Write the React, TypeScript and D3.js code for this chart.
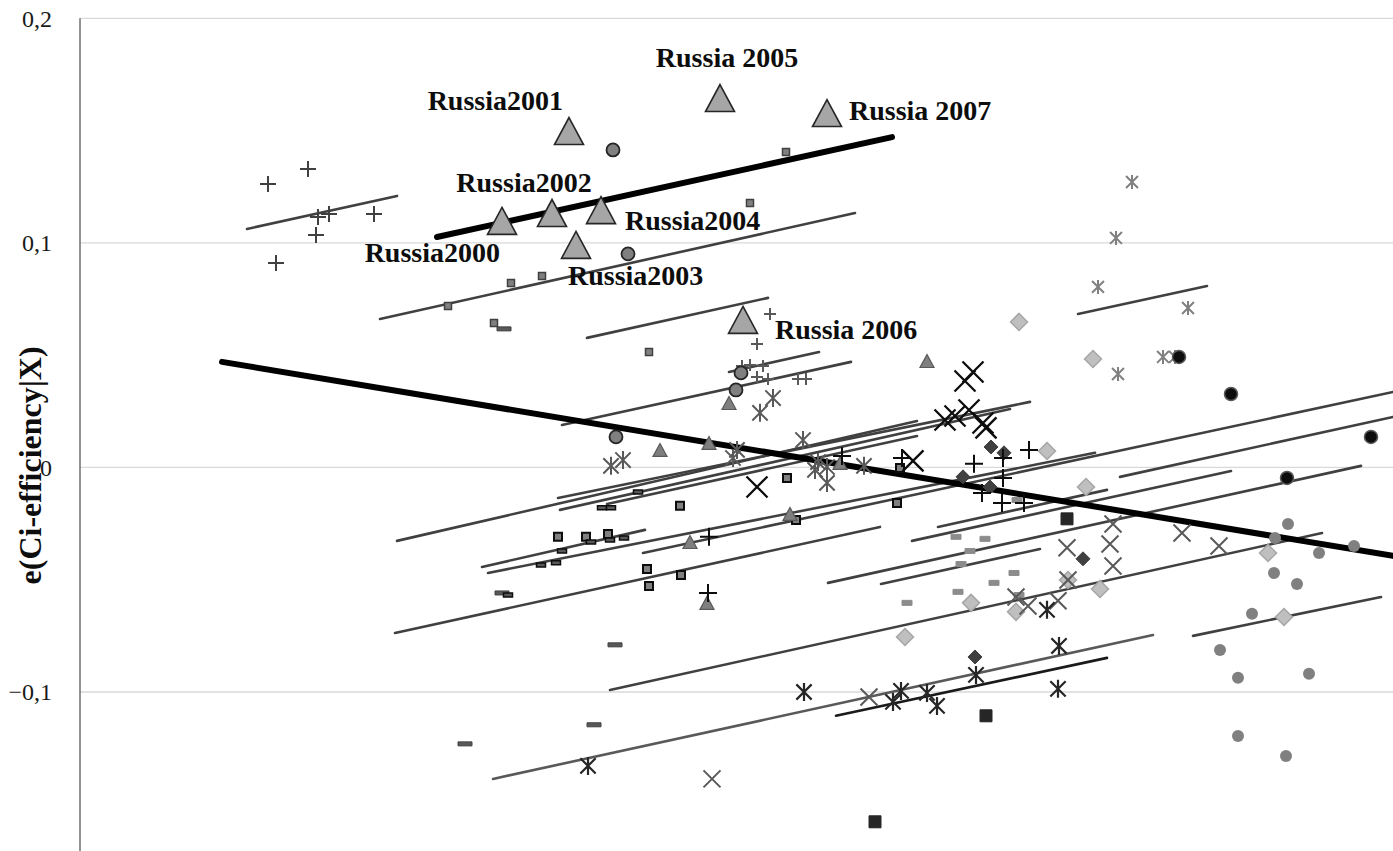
import React from 'react';
import * as d3 from 'd3';

// Russia observations (large triangles, labelled)
const russiaYears = ['Russia2000', 'Russia2001', 'Russia2002', 'Russia2003', 'Russia2004', 'Russia 2005', 'Russia 2006', 'Russia 2007'];
const russiaX = [4.22, 4.89, 4.72, 4.96, 5.21, 6.40, 6.63, 7.47];
const russiaY = [0.1098, 0.1498, 0.1133, 0.0991, 0.1146, 0.1645, 0.0657, 0.1578];

// other countries, one array per marker style: [x, e(Ci-efficiency|X)]
const plusGrey: number[][] = [[1.88, 0.1262], [2.28, 0.1329], [2.38, 0.1115], [2.49, 0.1129], [2.94, 0.1129], [2.36, 0.1035], [1.96, 0.0910]];
const plusMid: number[][] = [[6.90, 0.0683], [6.77, 0.0550], [6.62, 0.0452], [6.70, 0.0456], [6.83, 0.0452], [6.77, 0.0403], [6.88, 0.0394], [7.18, 0.0394], [7.26, 0.0394]];
const plusBlack: number[][] = [[6.29, -0.0309], [6.28, -0.0559], [7.62, 0.0051], [8.22, 0.0042], [8.94, 0.0016], [9.49, 0.0078], [9.23, 0.0042], [9.23, -0.0047], [9.02, -0.0114], [9.22, -0.0158], [9.44, -0.0158]];
const squaresGrey: number[][] = [[7.06, 0.1405], [6.70, 0.1178], [4.31, 0.0821], [4.62, 0.0853], [3.68, 0.0719], [4.14, 0.0643], [5.69, 0.0514]];
const dashesGrey: number[][] = [[4.24, 0.0617], [4.22, -0.0559], [5.35, -0.0790], [5.14, -0.1146], [3.85, -0.1231]];
const squaresOutlined: number[][] = [[4.78, -0.0309], [5.06, -0.0309], [5.28, -0.0296], [6.00, -0.0171], [5.67, -0.0452], [5.69, -0.0528], [6.01, -0.0479], [7.07, -0.0047], [7.16, -0.0234], [8.20, -0.0002], [8.17, -0.0158]];
const dashesOutlined: number[][] = [[5.22, -0.0180], [5.31, -0.0180], [5.58, -0.0109], [4.82, -0.0372], [4.61, -0.0434], [4.76, -0.0425], [5.11, -0.0332], [5.30, -0.0323], [5.44, -0.0314], [4.28, -0.0568]];
const circlesOutlined: number[][] = [[5.33, 0.1414], [5.48, 0.0951], [5.36, 0.0136], [6.56, 0.0345], [6.61, 0.0421]];
const trianglesSmall: number[][] = [[5.80, 0.0078], [6.29, 0.0109], [6.49, 0.0287], [7.60, 0.0020], [7.10, -0.0207], [6.10, -0.0332], [8.47, 0.0474], [6.27, -0.0603]];
const asterisksMid: number[][] = [[5.31, 0.0007], [5.43, 0.0033], [6.80, 0.0243], [6.93, 0.0309], [6.57, 0.0078], [6.53, 0.0042], [7.23, 0.0122], [7.38, 0.0024], [7.35, -0.0011], [7.47, 0.0002], [7.47, -0.0069], [7.84, 0.0007]];
const asterisksLight: number[][] = [[10.52, 0.1271], [10.36, 0.1022], [10.18, 0.0804], [11.08, 0.0710], [10.38, 0.0416], [10.83, 0.0492], [10.95, 0.0492]];
const circlesBlack: number[][] = [[10.99, 0.0492], [11.51, 0.0327], [12.91, 0.0136], [12.07, -0.0047]];
const circlesGrey: number[][] = [[12.08, -0.0252], [11.95, -0.0314], [12.39, -0.0381], [12.74, -0.0350], [11.94, -0.0470], [12.17, -0.0519], [11.72, -0.0652], [11.40, -0.0813], [11.58, -0.0937], [12.29, -0.0919], [11.58, -0.1196], [12.06, -0.1285]];
const diamondsLight: number[][] = [[9.39, 0.0648], [10.13, 0.0483], [9.67, 0.0073], [10.06, -0.0087], [11.88, -0.0381], [10.20, -0.0541], [12.04, -0.0666], [8.91, -0.0603], [8.25, -0.0755], [9.36, -0.0643], [9.88, -0.0501]];
const diamondsDark: number[][] = [[9.11, 0.0091], [9.24, 0.0065], [8.83, -0.0042], [9.10, -0.0087], [10.03, -0.0407], [8.95, -0.0844]];
const crossesBlack: number[][] = [[8.85, 0.0385], [8.93, 0.0425], [8.65, 0.0211], [8.75, 0.0229], [8.89, 0.0256], [9.03, 0.0198], [9.06, 0.0176], [8.33, 0.0029], [6.77, -0.0087]];
const crossesGrey: number[][] = [[9.87, -0.0358], [10.33, -0.0252], [10.30, -0.0341], [10.33, -0.0439], [9.88, -0.0501], [9.36, -0.0577], [9.48, -0.0617], [9.78, -0.0594], [11.02, -0.0292], [11.39, -0.0350], [7.89, -0.1022], [6.32, -0.1387]];
const asterisksDark: number[][] = [[7.24, -0.1000], [8.21, -0.0995], [8.13, -0.1044], [8.47, -0.1004], [8.57, -0.1062], [8.96, -0.0924], [9.67, -0.0634], [9.79, -0.0795], [9.78, -0.0986], [5.08, -0.1329]];
const squaresBlack: number[][] = [[7.95, -0.1578], [9.06, -0.1106], [9.87, -0.0229]];
const dashesLight: number[][] = [[8.76, -0.0309], [9.05, -0.0318], [8.90, -0.0372], [8.81, -0.0430], [9.34, -0.0470], [9.14, -0.0514], [8.78, -0.0554], [8.27, -0.0603], [9.37, -0.0145], [9.39, -0.0568]];

// fitted lines [x1, y1, x2, y2]
const pooledFit = [1.42, 0.0470, 13.13, -0.0394];
const russiaFit = [3.57, 0.1026, 8.12, 0.1471];
const countryFits: number[][] = [
  [1.67, 0.1062, 3.17, 0.1209],
  [3.00, 0.0661, 7.75, 0.1133],
  [5.07, 0.0577, 6.88, 0.0755],
  [6.49, 0.0425, 7.39, 0.0514],
  [4.82, 0.0189, 7.71, 0.0470],
  [9.98, 0.0683, 11.27, 0.0808],
  [3.17, -0.0327, 8.37, 0.0207],
  [4.78, -0.0136, 9.50, 0.0292],
  [4.80, -0.0189, 9.30, 0.0260],
  [5.27, -0.0163, 8.37, 0.0140],
  [4.02, -0.0443, 5.65, -0.0278],
  [4.08, -0.0470, 10.15, 0.0065],
  [5.63, -0.0381, 13.13, 0.0336],
  [5.30, -0.0991, 12.42, -0.0292],
  [4.13, -0.1387, 10.73, -0.0746],
  [7.56, -0.1106, 10.27, -0.0848],
  [11.13, -0.0750, 13.01, -0.0577],
  [7.48, -0.0514, 12.81, 0.0007],
  [8.01, -0.0519, 9.60, -0.0363],
  [8.32, -0.0327, 11.51, -0.0016],
  [8.58, -0.0265, 10.27, -0.0100],
  [10.40, -0.0042, 13.13, 0.0225],
  [3.15, -0.0737, 8.00, -0.0265],
];

const yTicks = [0.2, 0.1, 0, -0.1];

const W = 1393, H = 851;
const serif = '"Liberation Serif", "Times New Roman", serif';

const plusPath = (s: number) => `M${-s / 2},0H${s / 2}M0,${-s / 2}V${s / 2}`;
const crossPath = (s: number) => { const h = s / 2; return `M${-h},${-h}L${h},${h}M${-h},${h}L${h},${-h}`; };
const starPath = (s: number) => { const h = s / 2; return `${crossPath(s * 0.85)}M0,${-h}V${h}`; };
const diamondPath = (s: number) => { const h = s / 2; return `M0,${-h}L${h},0L0,${h}L${-h},0Z`; };
const triPath = (w: number, h: number) => `M0,${-h / 2}L${w / 2},${h / 2}L${-w / 2},${h / 2}Z`;
const rectPath = (w: number, h: number) => `M${-w / 2},${-h / 2}h${w}v${h}h${-w}Z`;

const App = () => {
  const x = d3.scaleLinear().domain([0, 13.13]).range([80, 1393]);
  const y = d3.scaleLinear().domain([-0.1, 0.2]).range([692, 18.3]);
  const fmt = (v: number) => d3.format('.1f')(v).replace('.', ',').replace(/^0,0$/, '0').replace(/^-0,0$/, '0');

  const series = [
    { data: circlesGrey, d: 'circle', r: 6, fill: '#808080', stroke: 'none', sw: 0 },
    { data: dashesLight, d: rectPath(10, 5), fill: '#8c8c8c', stroke: '#8c8c8c', sw: 1 },
    { data: diamondsLight, d: diamondPath(17), fill: '#bfbfbf', stroke: '#a6a6a6', sw: 1.5 },
    { data: squaresGrey, d: rectPath(7, 7), fill: '#808080', stroke: '#404040', sw: 1.5 },
    { data: dashesGrey, d: rectPath(14, 4), fill: '#595959', stroke: '#404040', sw: 1 },
    { data: squaresOutlined, d: rectPath(8, 8), fill: '#808080', stroke: '#0d0d0d', sw: 2 },
    { data: dashesOutlined, d: rectPath(9, 4), fill: '#595959', stroke: '#0d0d0d', sw: 1.5 },
    { data: plusGrey, d: plusPath(16), fill: 'none', stroke: '#404040', sw: 2 },
    { data: plusMid, d: plusPath(12), fill: 'none', stroke: '#595959', sw: 2 },
    { data: asterisksLight, d: starPath(14), fill: 'none', stroke: '#808080', sw: 2 },
    { data: asterisksMid, d: starPath(18), fill: 'none', stroke: '#595959', sw: 2 },
    { data: crossesGrey, d: crossPath(17), fill: 'none', stroke: '#595959', sw: 2 },
    { data: asterisksDark, d: starPath(18), fill: 'none', stroke: '#262626', sw: 2.2 },
    { data: trianglesSmall, d: triPath(14, 13), fill: '#7f7f7f', stroke: '#595959', sw: 1.2 },
    { data: circlesOutlined, d: 'circle', r: 6.5, fill: '#808080', stroke: '#262626', sw: 1.8 },
    { data: diamondsDark, d: diamondPath(14), fill: '#404040', stroke: '#404040', sw: 1 },
    { data: squaresBlack, d: rectPath(12, 12), fill: '#262626', stroke: '#262626', sw: 1 },
    { data: circlesBlack, d: 'circle', r: 6.5, fill: '#0d0d0d', stroke: '#595959', sw: 1.5 },
    { data: plusBlack, d: plusPath(18), fill: 'none', stroke: '#0d0d0d', sw: 2 },
    { data: crossesBlack, d: crossPath(21), fill: 'none', stroke: '#0d0d0d', sw: 2.3 },
  ];

  // label placement relative to each Russia triangle
  const labelPos: [number, number, string][] = [
    [-2, 41, 'end'], [-6, -21, 'end'], [-28, -21, 'middle'], [-8, 40, 'start'],
    [24, 20, 'start'], [7, -31, 'middle'], [32, 19, 'start'], [22, 7, 'start'],
  ];

  return (
    <svg width={W} height={H} style={{ position: 'absolute', left: 0, top: 0, background: '#fff' }} fontFamily={serif}>
      {yTicks.map((t) => (
        <g key={t}>
          <line x1={80} x2={W} y1={y(t)} y2={y(t)} stroke="#d9d9d9" strokeWidth={1.3} />
          <text x={52} y={y(t)} dy="0.35em" textAnchor="end" fontSize={24} fill="#1a1a1a">{fmt(t)}</text>
        </g>
      ))}
      <line x1={80} x2={80} y1={y(0.2)} y2={H} stroke="#595959" strokeWidth={1.3} />
      <text transform={`translate(41,${y(0) - 2}) rotate(-90)`} textAnchor="middle" fontSize={32} fontWeight="bold" fill="#0d0d0d">e(Ci-efficiency|X)</text>

      {countryFits.map((l, i) => (
        <line key={i} x1={x(l[0])} y1={y(l[1])} x2={x(l[2])} y2={y(l[3])}
          stroke={i === 14 ? '#595959' : i === 15 ? '#1a1a1a' : '#404040'} strokeWidth={2.6} strokeLinecap="round" />
      ))}
      {[pooledFit, russiaFit].map((l, i) => (
        <line key={i} x1={x(l[0])} y1={y(l[1])} x2={x(l[2])} y2={y(l[3])} stroke="#000" strokeWidth={6} strokeLinecap="round" />
      ))}

      {series.map((s, si) => (
        <g key={si}>
          {s.data.map((p, i) => s.d === 'circle'
            ? <circle key={i} cx={x(p[0])} cy={y(p[1])} r={s.r} fill={s.fill} stroke={s.stroke} strokeWidth={s.sw} />
            : <path key={i} transform={`translate(${x(p[0])},${y(p[1])})`} d={s.d} fill={s.fill} stroke={s.stroke} strokeWidth={s.sw} />)}
        </g>
      ))}

      {russiaX.map((rx, i) => (
        <g key={i}>
          <path transform={`translate(${x(rx)},${y(russiaY[i])})`} d={triPath(29, 27)} fill="#a6a6a6" stroke="#262626" strokeWidth={1.6} />
          <text x={x(rx) + labelPos[i][0]} y={y(russiaY[i]) + labelPos[i][1]} textAnchor={labelPos[i][2] as any}
            fontSize={28} fontWeight="bold" fill="#0d0d0d">{russiaYears[i]}</text>
        </g>
      ))}
    </svg>
  );
};

export default App;
